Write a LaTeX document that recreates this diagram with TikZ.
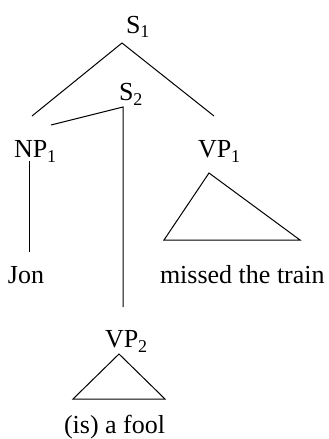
\documentclass[tikz,border=0pt]{standalone}
\usepackage{fontspec}
\setmainfont{Liberation Serif}
\newcommand{\catsub}[2]{#1\raisebox{-5pt}{\fontsize{18}{18}\selectfont #2}}
\begin{document}
\begin{tikzpicture}[x=1pt,y=-1pt,
  lbl/.style={anchor=base west,inner sep=0pt,outer sep=0pt,font=\fontsize{26}{30}\selectfont},
  edge/.style={line width=1pt,line join=miter}]
\useasboundingbox (0,0) rectangle (329,439);

% category labels and leaves
\node[lbl] (s1)   at (126,33)  {\catsub{S}{1}};
\node[lbl] (s2)   at (119,100) {\catsub{S}{2}};
\node[lbl] (np1)  at (14,157)  {\catsub{NP}{1}};
\node[lbl] (vp1)  at (198,157) {\catsub{VP}{1}};
\node[lbl] (jon)  at (8,283)   {Jon};
\node[lbl] (mtt)  at (160,283) {missed the train};
\node[lbl] (vp2)  at (105,347) {\catsub{VP}{2}};
\node[lbl] (fool) at (64,433)  {(is) a fool};

% attachment points of the branches
\coordinate (s1top)  at (122,43);
\coordinate (s1l)    at (32,116);
\coordinate (s1r)    at (214,116);
\coordinate (s2top)  at (123,107);
\coordinate (s2l)    at (51,125);
\coordinate (s2bot)  at (123,307);
\coordinate (np1top) at (29,161);
\coordinate (np1bot) at (29,252);
\coordinate (vp1a)   at (209,173);
\coordinate (vp1l)   at (164,240);
\coordinate (vp1r)   at (300,240);
\coordinate (vp2a)   at (119,354);
\coordinate (vp2l)   at (73,399);
\coordinate (vp2r)   at (165,399);

% branches
\draw[edge] (s1l) -- (s1top) -- (s1r);
\draw[edge] (s2l) -- (s2top) -- (s2bot);
\draw[edge] (np1top) -- (np1bot);

% triangles for unanalysed constituents
\draw[edge] (vp1a) -- (vp1l) -- (vp1r) -- cycle;
\draw[edge] (vp2a) -- (vp2l) -- (vp2r) -- cycle;
\end{tikzpicture}
\end{document}
